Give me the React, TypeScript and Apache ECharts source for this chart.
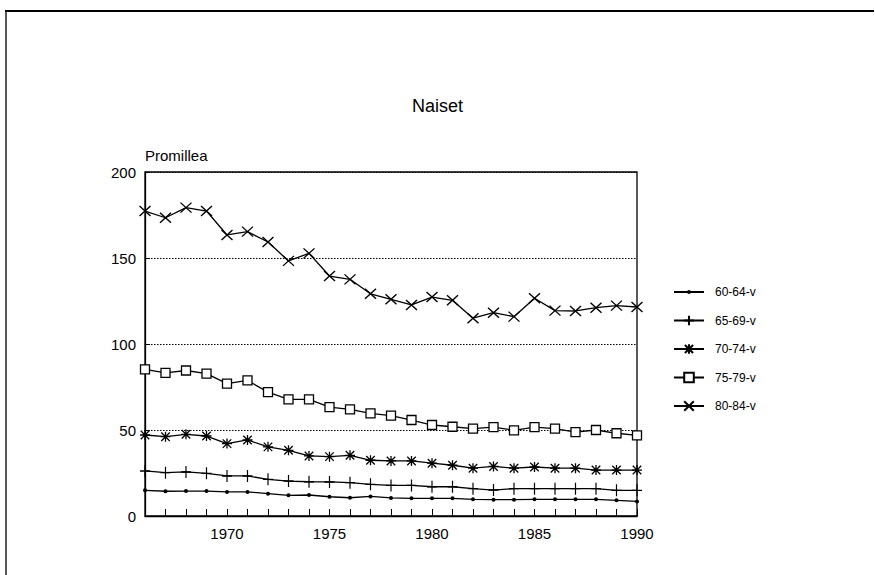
import React, { useEffect, useRef } from "react";
import * as echarts from "echarts";

const years = [1966, 1967, 1968, 1969, 1970, 1971, 1972, 1973, 1974, 1975, 1976, 1977, 1978, 1979, 1980, 1981, 1982, 1983, 1984, 1985, 1986, 1987, 1988, 1989, 1990];

const seriesNames = ["60-64-v", "65-69-v", "70-74-v", "75-79-v", "80-84-v"];

const v6064 = [14.9, 14.4, 14.5, 14.5, 14.0, 14.0, 13.0, 12.0, 12.2, 11.2, 10.6, 11.4, 10.5, 10.3, 10.3, 10.3, 9.7, 9.5, 9.5, 9.7, 9.7, 9.7, 9.7, 9.1, 8.5];
const v6569 = [26.2, 25.2, 25.6, 24.8, 23.3, 23.3, 21.3, 20.3, 19.9, 19.8, 19.4, 18.4, 17.8, 17.8, 17.0, 17.0, 15.9, 15.1, 15.9, 15.9, 15.9, 15.9, 15.9, 14.9, 14.9];
const v7074 = [47.1, 46.1, 47.5, 46.5, 42.1, 44.2, 40.2, 38.2, 34.9, 34.5, 35.3, 32.4, 32.0, 32.0, 30.7, 29.5, 27.8, 28.8, 27.8, 28.5, 27.8, 27.8, 26.7, 26.7, 26.7];
const v7579 = [85.2, 83.2, 84.6, 82.8, 77.0, 78.8, 72.0, 67.8, 67.8, 63.3, 62.0, 59.7, 58.3, 55.8, 52.9, 51.9, 50.8, 51.7, 49.8, 51.7, 50.8, 48.8, 50.0, 48.1, 46.9];
const v8084 = [177.3, 173.4, 179.3, 177.3, 163.4, 165.3, 159.3, 148.3, 152.7, 139.5, 137.6, 129.2, 126.0, 122.7, 127.3, 125.4, 115.0, 118.2, 115.9, 126.6, 119.4, 119.2, 121.1, 122.3, 121.5];

const yTicks = [0, 50, 100, 150, 200];
const xLabelYears = [1970, 1975, 1980, 1985, 1990];

const FONT = "'Liberation Sans', Arial, Helvetica, sans-serif";

export default function App() {
  const ref = useRef<HTMLDivElement>(null);

  useEffect(() => {
    if (!ref.current) return;
    const chart = echarts.init(ref.current, null, { renderer: "svg" });

    const allValues = [v6064, v6569, v7074, v7579, v8084];
    const symbols = [
      "path://M-1,0 A1,1 0 1,0 1,0 A1,1 0 1,0 -1,0 Z M-2.5,0 L2.5,0 M0,-2.5 L0,2.5",
      "path://M0,-1 L0,1 M-1,0 L1,0",
      "path://M0,-1 L0,1 M-0.85,-0.85 L0.85,0.85 M-0.85,0.85 L0.85,-0.85 M-1,0 L1,0",
      "rect",
      "path://M-1,-1 L1,1 M-1,1 L1,-1",
    ];
    const sizes = [10, [10, 12], 10, 9, [11, 10]];
    const fills = ["#000", "#000", "#000", "#fff", "#000"];

    const series = allValues.map((vals, i) => ({
      name: seriesNames[i],
      type: "line",
      data: years.map((y, k) => [y, vals[k]]),
      symbol: symbols[i],
      symbolSize: sizes[i],
      showSymbol: true,
      lineStyle: { color: "#000", width: 1.3 },
      itemStyle: { color: fills[i], borderColor: "#000", borderWidth: i === 0 ? 0 : 1.3 },
      emphasis: { disabled: true },
      z: 3,
    }));

    chart.setOption({
      animation: false,
      backgroundColor: "#fff",
      title: {
        text: "Naiset",
        left: "center",
        top: 92,
        textStyle: { fontSize: 18, fontWeight: "normal", color: "#000", fontFamily: FONT },
      },
      legend: {
        orient: "vertical",
        left: 668,
        top: 281,
        itemWidth: 30,
        itemHeight: 12,
        itemGap: 16.5,
        selectedMode: false,
        data: seriesNames,
        textStyle: { fontSize: 12, color: "#000", fontFamily: FONT, padding: [0, 0, 0, 6] },
      },
      grid: {
        left: 145,
        top: 172,
        width: 492,
        height: 344,
        show: true,
        borderColor: "#000",
        borderWidth: 1.3,
        backgroundColor: "transparent",
      },
      xAxis: {
        type: "value",
        min: years[0],
        max: years[years.length - 1],
        interval: 1,
        axisLine: { show: true, lineStyle: { color: "#000", width: 1.3 } },
        axisTick: { show: true, inside: true, length: 7, lineStyle: { color: "#000", width: 1 } },
        axisLabel: {
          color: "#000",
          fontSize: 15,
          fontFamily: FONT,
          margin: 10,
          formatter: (v: number) => (xLabelYears.includes(v) ? String(v) : ""),
        },
        splitLine: { show: false },
      },
      yAxis: {
        type: "value",
        min: yTicks[0],
        max: yTicks[yTicks.length - 1],
        interval: 50,
        name: "Promillea",
        nameLocation: "end",
        nameGap: 9,
        nameTextStyle: { align: "left", color: "#000", fontSize: 15, fontFamily: FONT },
        axisLine: { show: true, lineStyle: { color: "#000", width: 1.3 } },
        axisTick: { show: true, inside: true, length: 5, lineStyle: { color: "#000" } },
        axisLabel: { color: "#000", fontSize: 15, fontFamily: FONT, margin: 9 },
        splitLine: { show: true, lineStyle: { color: "#000", type: [1.5, 1.5], width: 1 } },
      },
      graphic: [
        { type: "line", shape: { x1: 5, y1: 11, x2: 874, y2: 11 }, style: { stroke: "#000", lineWidth: 2 } },
        { type: "line", shape: { x1: 6, y1: 11, x2: 6, y2: 575 }, style: { stroke: "#000", lineWidth: 1.3 } },
      ],
      series,
    });

    return () => chart.dispose();
  }, []);

  return (
    <div
      ref={ref}
      style={{ position: "absolute", left: 0, top: 0, width: 875, height: 575, background: "#fff" }}
    />
  );
}
